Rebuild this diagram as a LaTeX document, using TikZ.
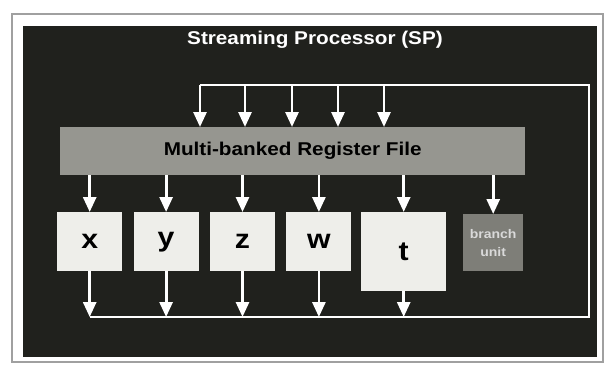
\documentclass[tikz,border=0pt]{standalone}
\usepackage{fontspec}
\setmainfont{Liberation Sans}
\newfontfamily\widefont[FakeStretch=1.12]{Liberation Sans}
\usepackage{tikz}
\usetikzlibrary{arrows.meta,positioning}
\definecolor{panelblack}{RGB}{32,33,29}
\definecolor{framegray}{RGB}{160,160,160}
\definecolor{regfill}{RGB}{150,150,144}
\definecolor{unitfill}{RGB}{126,126,120}
\definecolor{alufill}{RGB}{238,238,234}

\begin{document}
\begin{tikzpicture}[x=1pt,y=-1pt,
    bus/.style={white,line width=2.8pt,line join=miter},
    feed/.style={white,line width=2.8pt,-{Triangle[length=15pt,width=13pt]}},
    alu/.style={fill=alufill,minimum width=65pt,minimum height=59pt,inner sep=0pt,
      font=\widefont\bfseries\fontsize{27}{27}\selectfont}]
  \useasboundingbox (0,0) rectangle (606,367);
  \fill[white] (0,0) rectangle (606,367);
  % photo frame and dark panel
  \draw[framegray,line width=1.4pt] (12,14) rectangle (603,362);
  \fill[panelblack] (23,26) rectangle (597,357);
  \node[white,font=\widefont\bfseries\fontsize{18.5}{18.5}\selectfont] (title) at (315,40) {Streaming Processor (SP)};
  % register file
  \node[fill=regfill,anchor=north west,minimum width=465pt,minimum height=48pt,inner sep=0pt,
    font=\widefont\bfseries\fontsize{18.5}{18.5}\selectfont] (rf) at (60,127) {Multi-banked Register File};
  % execution units
  \node[alu,anchor=north west] (xu) at (57,212) {x};
  \node[alu,right=11pt of xu] (yu) {y};
  \node[alu,right=11pt of yu] (zu) {z};
  \node[alu,right=11pt of zu] (wu) {w};
  \node[alu,anchor=north west,minimum width=85pt,minimum height=79pt] (tu) at (361,212) {t};
  \node[fill=unitfill,anchor=north west,minimum width=60pt,minimum height=57pt,inner sep=0pt,
    text=white!85!black,align=center,font=\widefont\bfseries\fontsize{12.5}{18}\selectfont] (bu) at (463,214) {branch\\unit};
  % result bus back to the register file
  \coordinate (topL) at (200,85);
  \coordinate (topR) at (589,85);
  \coordinate (botR) at (589,317);
  \coordinate (botL) at (90,317);
  \draw[bus] (topL) -- (topR) -- (botR) -- (botL);
  \foreach \p [count=\i] in {200,245,292,338,384} {
    \coordinate (in\i) at (\p,85);
    \draw[feed] (in\i) -- (in\i |- rf.north);
  }
  \foreach \u in {xu,yu,zu,wu,tu,bu}
    \draw[feed] (rf.south -| \u.north) -- (\u.north);
  \foreach \u in {xu,yu,zu,wu,tu}
    \draw[feed] (\u.south) -- (\u.south |- botL);
\end{tikzpicture}
\end{document}
